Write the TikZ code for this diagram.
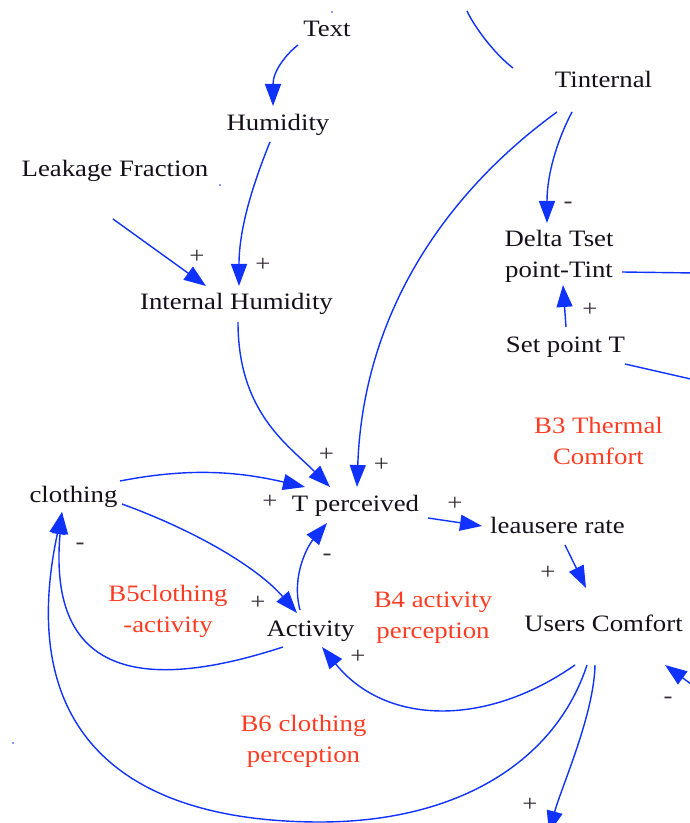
\documentclass[tikz,border=0pt]{standalone}
\usepackage{fontspec}
\setmainfont{Liberation Serif}[FakeStretch=1.14]
\usetikzlibrary{arrows.meta}
\definecolor{linkblue}{RGB}{15,50,255}
\definecolor{loopred}{RGB}{255,60,35}
\definecolor{signgray}{RGB}{55,45,55}
\definecolor{ink}{RGB}{20,15,25}
\newcommand{\diagfont}{\fontsize{23.5}{31}\selectfont}
\begin{document}
\begin{tikzpicture}[x=1pt,y=1pt,
  var/.style={font=\diagfont, text=ink, inner sep=0pt, text height=17pt, text depth=3pt},
  var2/.style={font=\diagfont, text=ink, inner sep=0pt, align=center},
  loopname/.style={font=\diagfont, text=loopred, inner sep=0pt, align=center},
  pol/.style={font=\diagfont, text=signgray, inner sep=0pt},
  plain/.style={draw=linkblue, line width=1.4pt},
  link/.style={plain, -{Triangle[length=22pt,width=16pt]}},
]
\useasboundingbox (0,0) rectangle (689,823);

% variables
\node[var] (Text)     at (327,793)   {Text};
\node[var] (Hum)      at (278,699.5) {Humidity};
\node[var] (Leak)     at (115,653)   {Leakage Fraction};
\node[var] (IH)       at (236.5,520.5) {Internal Humidity};
\node[var] (Tint)     at (603.5,742.5) {Tinternal};
\node[var2] (Delta)   at (559,566.5) {Delta Tset\\point-Tint};
\node[var] (SetT)     at (565.5,477.5) {Set point T};
\node[var] (clothing) at (73.5,327)  {clothing};
\node[var] (Tp)       at (355.5,318.5) {T perceived};
\node[var] (leas)     at (557.5,296.5) {leausere rate};
\node[var] (Users)    at (603.5,198) {Users Comfort};
\node[var] (Act)      at (310.5,193.5) {Activity};

% loop names
\node[loopname] (B3) at (598.5,382.5) {B3 Thermal\\Comfort};
\node[loopname] (B4) at (433,205.5)   {B4 activity\\perception};
\node[loopname] (B5) at (168,212)     {B5clothing\\-activity};
\node[loopname] (B6) at (303.5,81.5)  {B6 clothing\\perception};

% free ends of links leaving the drawing
\coordinate (offD) at (695,550);
\coordinate (offS) at (695,443);
\coordinate (offT) at (467,812);
\coordinate (offB) at (549,-10);
\coordinate (offR) at (702,131);

% causal links
\draw[link] ([shift={(-29,-15)}]Text.center) .. controls (286,768.6) and (273,752) .. ([shift={(-5,17.5)}]Hum.center);
\draw[link] ([shift={(-8,-18.5)}]Hum.center) .. controls (255,644) and (239,597) .. ([shift={(2.5,16.5)}]IH.center);
\draw[link] ([shift={(-2,-49)}]Leak.center) -- ([shift={(-30.5,16.5)}]IH.center);
\draw[link] ([shift={(1.5,-19.5)}]IH.center) .. controls (238,411) and (287.6,378.4) .. ([shift={(-25.5,17.5)}]Tp.center);
\draw[link] ([shift={(-46.5,-31.5)}]Tint.center) .. controls (451.8,634.6) and (363.3,516) .. ([shift={(1.5,17.5)}]Tp.center);
\draw[link] ([shift={(-31.5,-31.5)}]Tint.center) .. controls (558,684.5) and (547,650) .. ([shift={(-12,33.5)}]Delta.center);
\draw[link] ([shift={(0.5,18.5)}]SetT.center) -- ([shift={(4,-28.5)}]Delta.center);
\draw[plain] ([shift={(63,-15.5)}]Delta.center) -- (offD);
\draw[plain] ([shift={(59.5,-18.5)}]SetT.center) -- (offS);
\draw[plain] ([shift={(-90.5,12.5)}]Tint.center) .. controls (497,767) and (476,793) .. (offT);

\draw[link] ([shift={(46.5,15)}]clothing.center) .. controls (188.6,355.3) and (236.8,351.8) .. ([shift={(-50.5,17.5)}]Tp.center);
\draw[link] ([shift={(48.5,-8)}]clothing.center) .. controls (197,291.6) and (257.6,255.3) .. ([shift={(-13.5,16.5)}]Act.center);
\draw[link] ([shift={(-10.5,19.5)}]Act.center) .. controls (291,247) and (307.7,277) .. ([shift={(-28.5,-18.5)}]Tp.center);
\draw[link] ([shift={(-27.5,-17.5)}]Act.center) .. controls (150,132.6) and (47,141.7) .. ([shift={(-11.5,-16)}]clothing.center);
\draw[link] ([shift={(-28.5,-40)}]Users.center) .. controls (485,95) and (385,98) .. ([shift={(11.5,-17.5)}]Act.center);
\draw[link] ([shift={(-16.5,-40)}]Users.center) .. controls (556,63) and (460,1) .. (320,1)
            .. controls (130,1) and (14,86) .. ([shift={(-11.5,-16)}]clothing.center);
\draw[link] ([shift={(-8.5,-40)}]Users.center) .. controls (594,108) and (561,35) .. (offB);
\draw[link] (offR) -- ([shift={(61.5,-40)}]Users.center);
\draw[link] ([shift={(72.5,-13.5)}]Tp.center) -- ([shift={(-75.5,0.5)}]leas.center);
\draw[link] ([shift={(7.5,-18.5)}]leas.center) -- ([shift={(-17.5,37)}]Users.center);

% link polarities
\node[pol] (p1)  at (197,566)   {+};
\node[pol] (p2)  at (263,558)   {+};
\node[pol] (p3)  at (326.5,368) {+};
\node[pol] (p4)  at (381.5,358.5) {+};
\node[pol] (p5)  at (270,321)   {+};
\node[pol] (p6)  at (455,319)   {+};
\node[pol] (m1)  at (568,618)   {-};
\node[pol] (p7)  at (590,513)   {+};
\node[pol] (m2)  at (80,277)    {-};
\node[pol] (m3)  at (327,266)   {-};
\node[pol] (p8)  at (258,220)   {+};
\node[pol] (p9)  at (358,166)   {+};
\node[pol] (p10) at (548,250)   {+};
\node[pol] (p11) at (530,18)    {+};
\node[pol] (m4)  at (668,123)   {-};

% stray marks
\fill[linkblue] (332,811) circle (0.9);
\fill[linkblue] (220,638) circle (0.9);
\fill[linkblue] (13,80) circle (0.9);
\end{tikzpicture}
\end{document}
